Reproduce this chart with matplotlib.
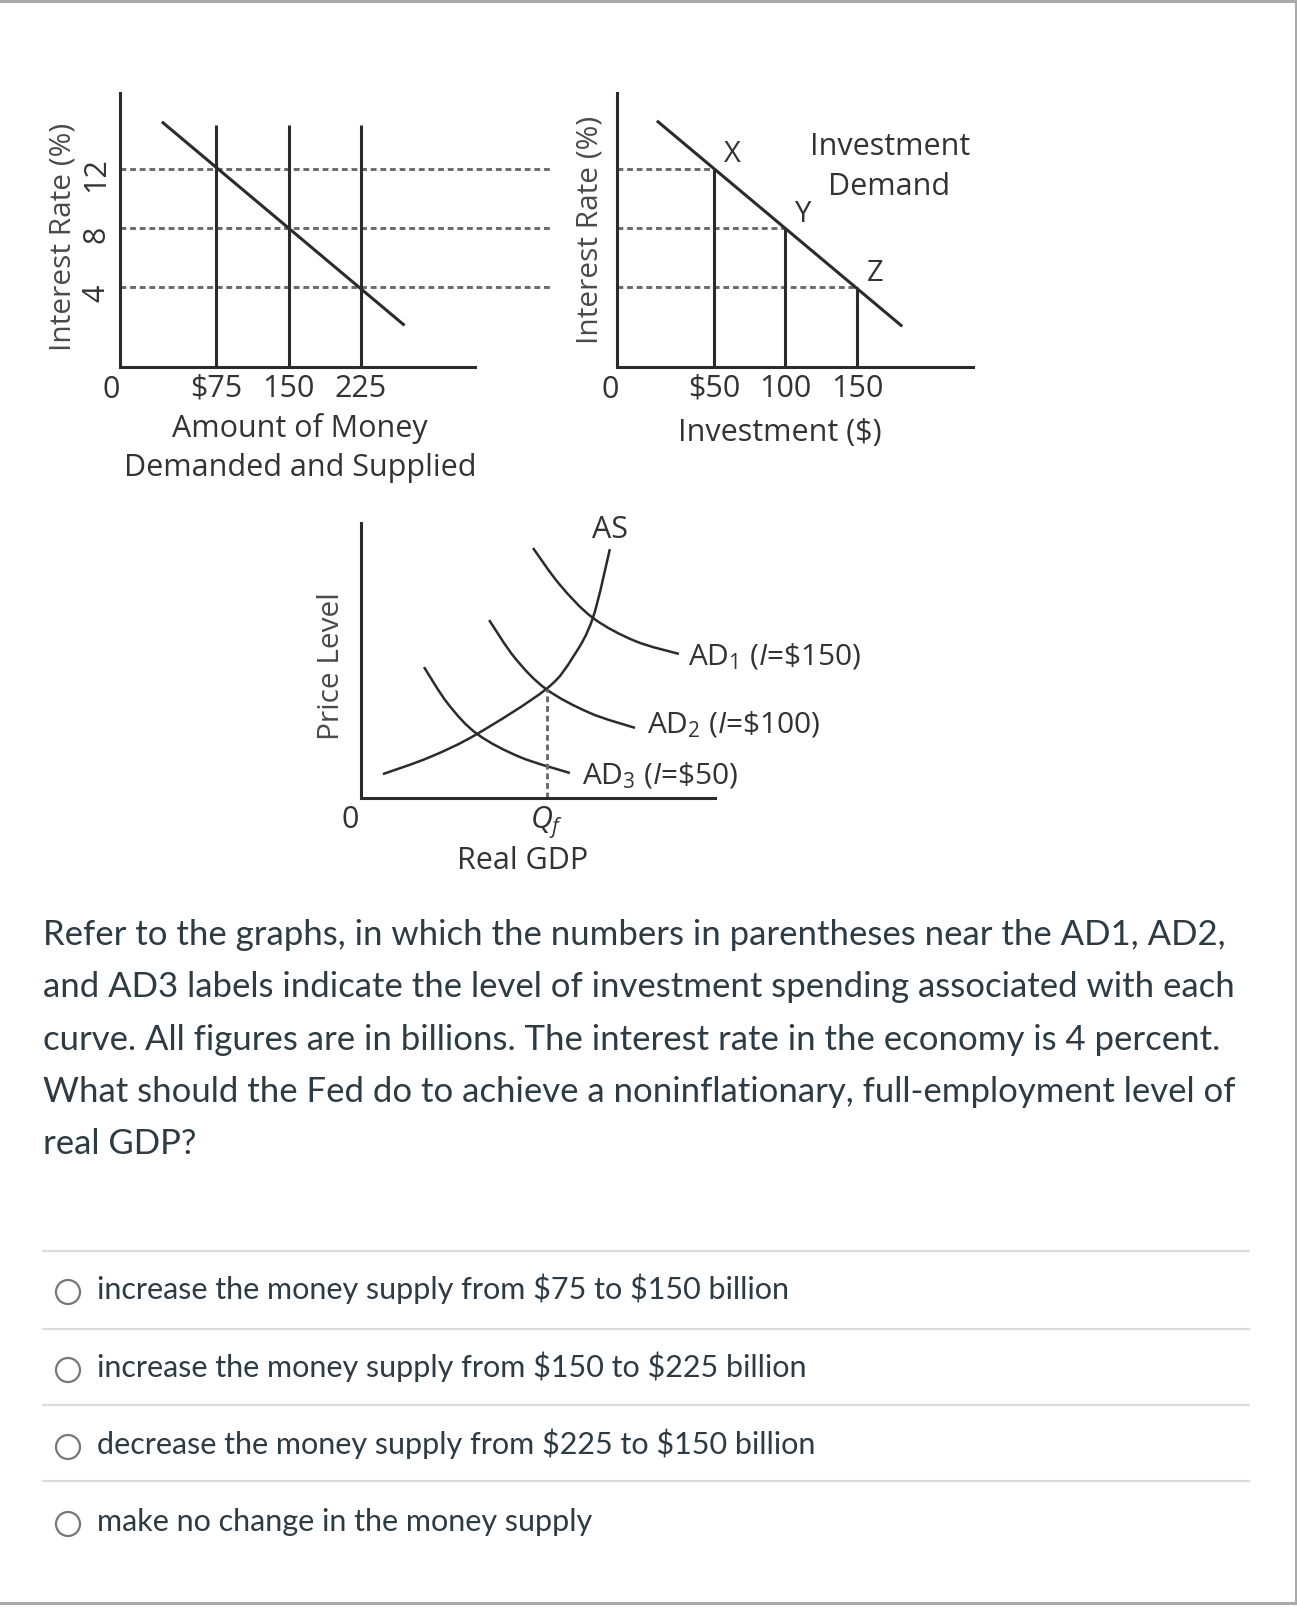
import matplotlib
matplotlib.use("Agg")
import matplotlib.pyplot as plt
from matplotlib.path import Path
from matplotlib.patches import PathPatch, Circle
from matplotlib.transforms import ScaledTranslation

W, H = 1297, 1607

plt.rcParams["font.family"] = ["Open Sans", "DejaVu Sans"]
plt.rcParams["mathtext.fontset"] = "custom"
plt.rcParams["mathtext.rm"] = "Open Sans"
plt.rcParams["mathtext.it"] = "Open Sans:italic"
plt.rcParams["mathtext.bf"] = "Open Sans:bold"

# money market
money_supply = [75, 150, 225]
money_labels = ["\\$75", "150", "225"]
rates = [12, 8, 4]
md_x = [19, 270]
md_y = [15.2, 1.4]
ms_top = 15.0

# investment demand
investment = [50, 100, 150]
inv_labels = ["\\$50", "100", "150"]
id_x = [10.9, 180.8]
id_y = [15.2, 1.4]
point_names = ["X", "Y", "Z"]

# AD-AS (arbitrary units, 0-100)
as_x = [6.2, 19.5, 32.8, 52.3, 59.9, 65.5, 70.3]
as_y = [8.7, 14.9, 23.3, 39.6, 51.3, 65.5, 90.5]
ad1_x = [48.6, 56.2, 65.5, 77.4, 89.8]
ad1_y = [90.9, 77.5, 65.5, 57.1, 52.4]
ad2_x = [36.2, 43.5, 52.3, 64.7, 77.4]
ad2_y = [64.7, 50.9, 39.6, 30.9, 25.5]
ad3_x = [17.8, 24.6, 32.8, 44.9, 59.0]
ad3_y = [47.6, 34.2, 23.3, 14.9, 9.1]
qf_x = 52.5
qf_y = 39.6
ad_labels = [r"AD$_{\mathit{1}}$ ($\mathit{I}$=\$150)",
             r"AD$_2$ ($\mathit{I}$=\$100)",
             r"AD$_3$ ($\mathit{I}$=\$50)"]

question = [
    "Refer to the graphs, in which the numbers in parentheses near the AD1, AD2,",
    "and AD3 labels indicate the level of investment spending associated with each",
    "curve. All figures are in billions. The interest rate in the economy is 4 percent.",
    "What should the Fed do to achieve a noninflationary, full-employment level of",
    "real GDP?",
]
options = [
    "increase the money supply from $75 to $150 billion",
    "increase the money supply from $150 to $225 billion",
    "decrease the money supply from $225 to $150 billion",
    "make no change in the money supply",
]

INK = "#2b2b2b"
TXT = "#333333"
AXL = "#4a4a4a"
DASH = "#6a6a6a"
LW = 2.2
DLW = 2.1
FS = 22
DASHES = (0, (2.0, 1.3))


def rect(x0, y0, x1, y1):
    return [x0 / W, 1 - y1 / H, (x1 - x0) / W, (y1 - y0) / H]


def smooth_path(xs, ys):
    # catmull-rom knots -> cubic bezier path
    pts = list(zip(xs, ys))
    verts = [pts[0]]
    codes = [Path.MOVETO]
    n = len(pts)
    for i in range(n - 1):
        p0 = pts[i - 1] if i > 0 else pts[i]
        p1 = pts[i]
        p2 = pts[i + 1]
        p3 = pts[i + 2] if i + 2 < n else pts[i + 1]
        c1 = (p1[0] + (p2[0] - p0[0]) / 6, p1[1] + (p2[1] - p0[1]) / 6)
        c2 = (p2[0] - (p3[0] - p1[0]) / 6, p2[1] - (p3[1] - p1[1]) / 6)
        verts += [c1, c2, p2]
        codes += [Path.CURVE4] * 3
    return Path(verts, codes)


def style_axes(ax):
    for s in ["top", "right"]:
        ax.spines[s].set_visible(False)
    for s in ["left", "bottom"]:
        ax.spines[s].set_linewidth(LW)
        ax.spines[s].set_color(INK)
    ax.tick_params(length=0, labelsize=FS, colors=TXT)
    ax.patch.set_alpha(0)


fig = plt.figure(figsize=(W / 100, H / 100), dpi=100)

# page layer in pixel units
page = fig.add_axes([0, 0, 1, 1])
page.set_xlim(0, W)
page.set_ylim(H, 0)
page.axis("off")
page.plot([0, W], [1.2, 1.2], color="#a9a9a9", lw=2.2)
page.plot([1295.5, 1295.5], [0, 1603], color="#a9a9a9", lw=2.2)
page.plot([0, 1296], [1602.5, 1602.5], color="#a9a9a9", lw=2.2)

# money market panel
ax1 = fig.add_axes(rect(120, 93, 475, 367))
style_axes(ax1)
ax1.set_xlim(-24.3, 342.9)
ax1.set_ylim(-1.42, 17.15)
ax1.plot(md_x, md_y, color=INK, lw=LW, solid_capstyle="butt")
ax1.vlines(money_supply, -1.42, ms_top, color=INK, lw=LW)
ax1.hlines(rates, -24.3, 423.6, color=DASH, lw=DLW, linestyles=DASHES,
           clip_on=False, zorder=1)
ax1.set_xticks(money_supply, money_labels)
ax1.set_yticks(rates, [str(r) for r in rates], rotation=90, va="center")
ax1.tick_params(axis="x", pad=5)
ax1.tick_params(axis="y", pad=6)
shift = ScaledTranslation(0, -0.06, fig.dpi_scale_trans)
for lab in ax1.get_yticklabels():
    lab.set_transform(lab.get_transform() + shift)
ax1.text(-0.025, -0.085, "0", transform=ax1.transAxes, ha="center", va="center",
         fontsize=FS, color=TXT)
fig.text(300 / W, 1 - 429 / H, "Amount of Money", ha="center", va="center",
         fontsize=FS, color=TXT)
fig.text(300 / W, 1 - 468 / H, "Demanded and Supplied", ha="center", va="center",
         fontsize=FS, color=TXT)
fig.text(63 / W, 1 - 237 / H, "Interest Rate (%)", ha="center", va="center",
         rotation=90, fontsize=21.5, color=AXL)

# investment demand panel
ax2 = fig.add_axes(rect(617, 93, 973, 367))
style_axes(ax2)
ax2.set_xlim(-17.8, 231.1)
ax2.set_ylim(-1.42, 17.15)
ax2.plot(id_x, id_y, color=INK, lw=LW)
ax2.vlines(investment, -1.42, rates, color=INK, lw=LW)
for inv, r in zip(investment, rates):
    ax2.hlines(r, -17.8, inv, color=DASH, lw=DLW, linestyles=DASHES, zorder=1)
for inv, r, name in zip(investment, rates, point_names):
    ax2.annotate(name, (inv, r), xytext=(18, 14), textcoords="offset pixels",
                 ha="center", va="center", fontsize=21, color=TXT)
ax2.set_xticks(investment, inv_labels)
ax2.set_yticks([])
ax2.tick_params(axis="x", pad=5)
ax2.text(-0.02, -0.085, "0", transform=ax2.transAxes, ha="center", va="center",
         fontsize=FS, color=TXT)
fig.text(890 / W, 1 - 147 / H, "Investment", ha="center", va="center",
         fontsize=FS, color=TXT)
fig.text(889 / W, 1 - 187 / H, "Demand", ha="center", va="center",
         fontsize=FS, color=TXT)
fig.text(780 / W, 1 - 433 / H, "Investment (\\$)", ha="center", va="center",
         fontsize=FS, color=TXT)
fig.text(590 / W, 1 - 230 / H, "Interest Rate (%)", ha="center", va="center",
         rotation=90, fontsize=21.5, color=AXL)

# AD-AS panel
ax3 = fig.add_axes(rect(361, 523, 715, 798))
style_axes(ax3)
ax3.set_xlim(0, 100)
ax3.set_ylim(0, 100)
for xs, ys in [(as_x, as_y), (ad1_x, ad1_y), (ad2_x, ad2_y), (ad3_x, ad3_y)]:
    ax3.add_patch(PathPatch(smooth_path(xs, ys), fill=False, edgecolor=INK,
                            lw=1.8, capstyle="butt"))
ax3.vlines(qf_x, 0, qf_y, color=DASH, lw=DLW, linestyles=DASHES)
ax3.set_xticks([qf_x], [r"$Q_f$"])
ax3.set_yticks([])
ax3.tick_params(axis="x", pad=5)
ax3.text(-0.03, -0.08, "0", transform=ax3.transAxes, ha="center", va="center",
         fontsize=FS, color=TXT)
ax3.annotate("AS", (as_x[-1], as_y[-1]), xytext=(0, 19), textcoords="offset pixels",
             ha="center", va="center", fontsize=FS, color=TXT, annotation_clip=False)
ends = [(ad1_x[-1], ad1_y[-1]), (ad2_x[-1], ad2_y[-1]), (ad3_x[-1], ad3_y[-1])]
offs = [(9, -3), (12, 3), (12, -3)]
for lab, end, off in zip(ad_labels, ends, offs):
    ax3.annotate(lab, end, xytext=off, textcoords="offset pixels", ha="left",
                 va="center", fontsize=21.5, color=TXT, annotation_clip=False)
fig.text(523 / W, 1 - 861 / H, "Real GDP", ha="center", va="center",
         fontsize=FS, color=TXT)
fig.text(331 / W, 1 - 666 / H, "Price Level", ha="center", va="center",
         rotation=90, fontsize=21.5, color=AXL)

# question text
qbase = [945, 997, 1050, 1102, 1154]
for line, yb in zip(question, qbase):
    page.text(43, yb, line, ha="left", va="baseline", fontsize=25,
              family=["Lato", "DejaVu Sans"], color="#2d3b45")

# answer options
seps = [1251, 1329, 1405, 1481]
page.hlines(seps, 42, 1250, color="#dcdcdc", lw=1.6)
obase = [1299, 1377, 1454, 1531]
for opt, yb in zip(options, obase):
    page.add_patch(Circle((68, yb - 7), 12, fill=False, edgecolor="#777777", lw=1.6))
    page.text(97, yb, opt.replace("$", "\\$"), ha="left", va="baseline", fontsize=22,
              family=["Lato", "DejaVu Sans"], color="#2d3b45")

fig.savefig("out.png", dpi=100)
